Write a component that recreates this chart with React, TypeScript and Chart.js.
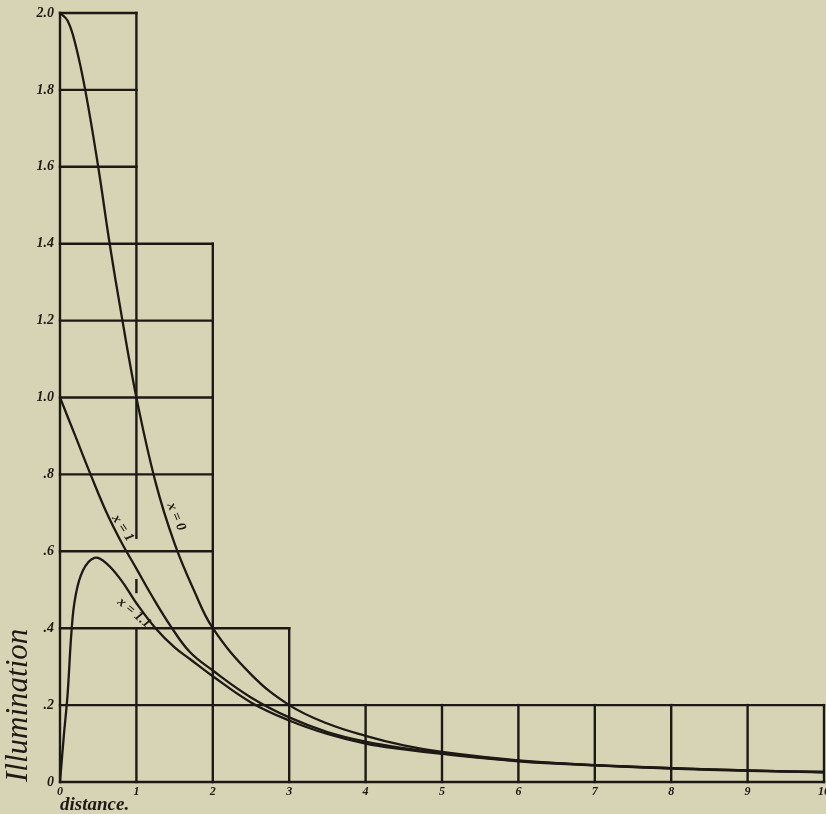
import React, { useEffect, useRef } from 'react';
import { Chart, registerables } from 'chart.js';

Chart.register(...registerables);

// ---- data ----
const xTickValues = [0, 1, 2, 3, 4, 5, 6, 7, 8, 9, 10];
const xTickLabels = ['0', '1', '2', '3', '4', '5', '6', '7', '8', '9', '10'];
const yTickValues = [0, 0.2, 0.4, 0.6, 0.8, 1.0, 1.2, 1.4, 1.6, 1.8, 2.0];
const yTickLabels = ['0', '.2', '.4', '.6', '.8', '1.0', '1.2', '1.4', '1.6', '1.8', '2.0'];

// staircase of ruled cells: height of each unit column [i, i+1]
const columnHeights = [2.0, 1.4, 0.4, 0.2, 0.2, 0.2, 0.2, 0.2, 0.2, 0.2];
const gridStep = 0.2;
// breaks in the ruled line at distance 1 (where the curve labels are written)
const lineOneGaps = [[0.395, 0.494], [0.525, 0.635]];

// curve x = 0
const curve0X = [0, 0.1, 0.2, 0.33, 0.5, 0.65, 0.8, 1, 1.25, 1.5, 1.75, 2, 2.5, 3, 3.5, 4, 4.5, 5, 6, 7, 8, 9, 10];
const curve0Y = [2.0, 1.98, 1.92, 1.8, 1.6, 1.4, 1.22, 1.0, 0.78, 0.62, 0.5, 0.4, 0.28, 0.2, 0.152, 0.12, 0.095, 0.078, 0.056, 0.044, 0.036, 0.03, 0.026];
// curve x = 1
const curve1X = [0, 0.2, 0.4, 0.6, 0.8, 1, 1.2, 1.45, 1.7, 2, 2.5, 3, 3.5, 4, 4.5, 5, 6, 7, 8, 9, 10];
const curve1Y = [1.0, 0.9, 0.8, 0.705, 0.625, 0.555, 0.485, 0.405, 0.338, 0.29, 0.22, 0.168, 0.13, 0.105, 0.088, 0.075, 0.055, 0.044, 0.036, 0.03, 0.026];
// curve x = 1.1
const curve11X = [0, 0.05, 0.1, 0.15, 0.2, 0.3, 0.45, 0.6, 0.8, 1, 1.25, 1.5, 1.7, 2, 2.5, 3, 3.5, 4, 4.5, 5, 6, 7, 8, 9, 10];
const curve11Y = [0, 0.12, 0.23, 0.39, 0.48, 0.55, 0.583, 0.57, 0.525, 0.465, 0.4, 0.35, 0.32, 0.275, 0.207, 0.16, 0.125, 0.1, 0.085, 0.073, 0.054, 0.043, 0.035, 0.029, 0.025];

const curveLabelTexts = ['x = 0', 'x = 1', 'x = 1.1'];
const curveLabelAt = [[1.52, 0.69], [0.82, 0.66], [0.97, 0.44]];
const curveLabelAngles = [67, 57, 40];

const INK = '#1d1915';
const PAPER = '#d7d4b5';
const FONT = '"Liberation Serif", "DejaVu Serif", serif';

const toPoints = (xs: number[], ys: number[]) => xs.map((x, i) => ({ x, y: ys[i] }));

const stairGrid = {
  id: 'stairGrid',
  beforeDatasetsDraw(chart: any) {
    const { ctx, scales } = chart;
    const xs = scales.x;
    const ys = scales.y;
    ctx.save();
    ctx.strokeStyle = INK;
    ctx.lineWidth = 2.4;
    ctx.lineCap = 'square';
    const seg = (x1: number, y1: number, x2: number, y2: number) => {
      ctx.beginPath();
      ctx.moveTo(xs.getPixelForValue(x1), ys.getPixelForValue(y1));
      ctx.lineTo(xs.getPixelForValue(x2), ys.getPixelForValue(y2));
      ctx.stroke();
    };
    const maxH = Math.max(...columnHeights);
    const nRows = Math.round(maxH / gridStep);
    for (let k = 0; k <= nRows; k++) {
      const y = k * gridStep;
      let end = 0;
      columnHeights.forEach((h, i) => {
        if (h >= y - 1e-9) end = i + 1;
      });
      if (end > 0) seg(0, y, end, y);
    }
    for (let i = 0; i <= columnHeights.length; i++) {
      const left = i > 0 ? columnHeights[i - 1] : 0;
      const right = i < columnHeights.length ? columnHeights[i] : 0;
      const top = Math.max(left, right);
      if (i === 1) {
        let from = 0;
        lineOneGaps.forEach(([a, b]) => {
          seg(i, from, i, a);
          from = b;
        });
        seg(i, from, i, top);
      } else {
        seg(i, 0, i, top);
      }
    }
    ctx.restore();
  },
  afterDatasetsDraw(chart: any) {
    const { ctx, scales } = chart;
    ctx.save();
    ctx.fillStyle = INK;
    ctx.font = `italic bold 14px ${FONT}`;
    ctx.textAlign = 'center';
    ctx.textBaseline = 'middle';
    curveLabelTexts.forEach((t, i) => {
      const px = scales.x.getPixelForValue(curveLabelAt[i][0]);
      const py = scales.y.getPixelForValue(curveLabelAt[i][1]);
      ctx.save();
      ctx.translate(px, py);
      ctx.rotate((curveLabelAngles[i] * Math.PI) / 180);
      ctx.fillText(t, 0, 0);
      ctx.restore();
    });
    ctx.restore();
  },
};

export default function App() {
  const ref = useRef<HTMLCanvasElement | null>(null);
  useEffect(() => {
    if (!ref.current) return;
    document.body.style.margin = '0';
    document.body.style.background = PAPER;
    const lineStyle = {
      borderColor: INK,
      borderWidth: 2.3,
      pointRadius: 0,
      fill: false,
      tension: 0.4,
    };
    const chart = new Chart(ref.current, {
      type: 'line',
      data: {
        datasets: [
          { label: 'x = 0', data: toPoints(curve0X, curve0Y), ...lineStyle },
          { label: 'x = 1', data: toPoints(curve1X, curve1Y), ...lineStyle },
          { label: 'x = 1.1', data: toPoints(curve11X, curve11Y), ...lineStyle },
        ],
      },
      options: {
        animation: false,
        responsive: false,
        devicePixelRatio: 1,
        layout: { padding: { top: 13, right: 2, left: 0, bottom: 0 } },
        plugins: { legend: { display: false }, tooltip: { enabled: false } },
        scales: {
          x: {
            type: 'linear',
            min: 0,
            max: 10,
            grid: { display: false, drawTicks: false },
            border: { display: false },
            afterBuildTicks: (s: any) => {
              s.ticks = xTickValues.map((v) => ({ value: v }));
            },
            afterFit: (s: any) => {
              s.height = 32;
              s.paddingLeft = 0;
              s.paddingRight = 0;
            },
            ticks: {
              autoSkip: false,
              maxRotation: 0,
              padding: 3,
              color: INK,
              font: { family: FONT, size: 12, style: 'italic', weight: 'bold' },
              callback: (_v: any, i: number) => xTickLabels[i],
            },
            title: {
              display: true,
              text: 'distance.',
              align: 'start',
              color: INK,
              padding: 0,
              font: { family: FONT, size: 19, style: 'italic', weight: 'bold', lineHeight: 0.95 },
            },
          },
          y: {
            type: 'linear',
            min: 0,
            max: 2.0,
            grid: { display: false, drawTicks: false },
            border: { display: false },
            afterBuildTicks: (s: any) => {
              s.ticks = yTickValues.map((v) => ({ value: v }));
            },
            afterFit: (s: any) => {
              s.width = 60;
              s.paddingTop = 0;
              s.paddingBottom = 0;
            },
            ticks: {
              autoSkip: false,
              padding: 6,
              color: INK,
              font: { family: FONT, size: 14, style: 'italic', weight: 'bold' },
              callback: (_v: any, i: number) => yTickLabels[i],
            },
            title: {
              display: true,
              text: 'Illumination',
              align: 'start',
              color: INK,
              padding: 0,
              font: { family: FONT, size: 31, style: 'italic', weight: 'normal', lineHeight: 1.2 },
            },
          },
        },
      },
      plugins: [stairGrid],
    });
    return () => chart.destroy();
  }, []);
  return (
    <div style={{ position: 'fixed', left: 0, top: 0, width: 826, height: 814, background: PAPER }}>
      <canvas ref={ref} width={826} height={814} style={{ display: 'block' }} />
    </div>
  );
}
